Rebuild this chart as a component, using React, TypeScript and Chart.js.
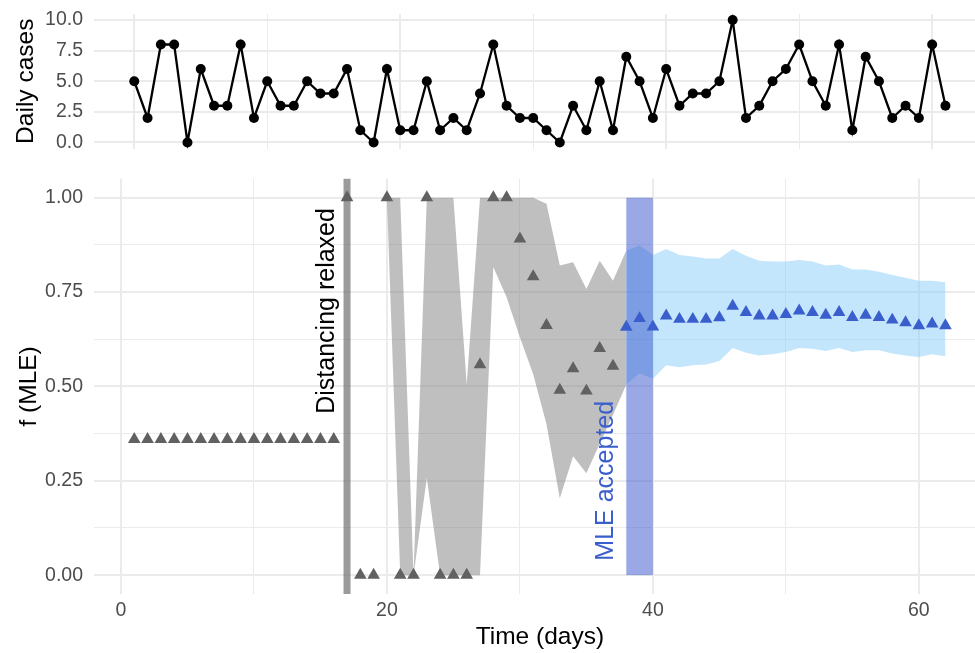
import React, { useEffect, useRef } from "react";
import { Chart, registerables } from "chart.js";

Chart.register(...registerables);

// ---------- data ----------
const days = Array.from({ length: 62 }, (_, i) => i + 1);

const dailyCases = [
  5, 2, 8, 8, 0, 6, 3, 3, 8, 2, 5, 3, 3, 5, 4, 4, 6, 1, 0, 6, 1, 1, 5, 1, 2, 1, 4, 8, 3, 2, 2,
  1, 0, 3, 1, 5, 1, 7, 5, 2, 6, 3, 4, 4, 5, 10, 2, 3, 5, 6, 8, 5, 3, 8, 1, 7, 5, 2, 3, 2, 8, 3,
];

// f (MLE) estimate per day (days 1..62)
const fMle = [
  0.36, 0.36, 0.36, 0.36, 0.36, 0.36, 0.36, 0.36, 0.36, 0.36, 0.36, 0.36, 0.36, 0.36, 0.36, 0.36,
  1.0, 0, 0, 1.0, 0, 0, 1.0, 0, 0, 0, 0.558, 1.0, 1.0, 0.891, 0.791, 0.662, 0.49, 0.547, 0.488,
  0.601, 0.554,
  0.657, 0.68, 0.658, 0.687, 0.678, 0.678, 0.678, 0.682, 0.713, 0.696, 0.687, 0.687, 0.691, 0.7,
  0.696, 0.689, 0.696, 0.683, 0.689, 0.683, 0.676, 0.669, 0.661, 0.666, 0.661,
];
const mleAcceptedDay = 38; // first day drawn in blue

// grey confidence band, days 20..38
const greyRibbonStart = 20;
const greyLower = [1, 0, 0, 0.257, 0, 0, 0, 0, 0.816, 0.736, 0.63, 0.532, 0.4, 0.204, 0.315, 0.27, 0.348, 0.425, 0.505];
const greyUpper = [1, 1, 0, 1, 1, 1, 0.505, 1, 1, 1, 1, 1, 0.984, 0.82, 0.829, 0.758, 0.833, 0.78, 0.86];

// blue confidence band, days 38..62
const blueRibbonStart = 38;
const blueLower = [
  0.505, 0.535, 0.52, 0.556, 0.551, 0.556, 0.558, 0.567, 0.602, 0.589, 0.582, 0.585, 0.591,
  0.602, 0.6, 0.594, 0.602, 0.591, 0.596, 0.596, 0.587, 0.582, 0.578, 0.585, 0.58,
];
const blueUpper = [
  0.86, 0.873, 0.848, 0.864, 0.848, 0.844, 0.839, 0.839, 0.864, 0.846, 0.833, 0.831, 0.831,
  0.835, 0.831, 0.82, 0.823, 0.81, 0.81, 0.804, 0.795, 0.788, 0.78, 0.78, 0.776,
];

const distancingDay = 17;
const mleWindowFrom = 38;
const mleWindowTo = 40;
const distancingLabel = "Distancing relaxed";
const mleLabel = "MLE accepted";

// ticks
const timeTicks = [0, 10, 20, 30, 40, 50, 60];
const timeMajor = [0, 20, 40, 60];
const topGridDays = [1, 11, 21, 31, 41, 51, 61];
const topGridMajor = [1, 21, 41, 61];
const fTicks = [0, 0.125, 0.25, 0.375, 0.5, 0.625, 0.75, 0.875, 1];
const fMajor = [0, 0.25, 0.5, 0.75, 1];
const casesTicks = [0, 1.25, 2.5, 3.75, 5, 6.25, 7.5, 8.75, 10];
const casesMajor = [0, 2.5, 5, 7.5, 10];

// ---------- styling ----------
const FONT = '"Liberation Sans", Arial, Helvetica, sans-serif';
const GRID = "#EBEBEB";
const TICK_COLOR = "#4D4D4D";
const X_MIN = -2.05;
const X_MAX = 65.05;
const LEFT_W = 93.7;
const CANVAS_W = 986;
const TOP_H = 160;
const BOT_H = 493;

const xy = (xs: number[], ys: number[]) => xs.map((x, i) => ({ x, y: ys[i] }));
const range = (start: number, n: number) => days.slice(start - 1, start - 1 + n);

const fixX = (h: number) => (s: any) => {
  s.height = h;
  s.paddingLeft = 0;
  s.paddingRight = 0;
};
const fixY = (s: any) => {
  s.width = LEFT_W;
  s.paddingTop = 0;
  s.paddingBottom = 0;
};

export default function App() {
  const topRef = useRef<HTMLCanvasElement | null>(null);
  const botRef = useRef<HTMLCanvasElement | null>(null);

  useEffect(() => {
    const top = new Chart(topRef.current!, {
      type: "line",
      data: {
        datasets: [
          {
            data: xy(days, dailyCases),
            borderColor: "#000",
            borderWidth: 2.3,
            pointRadius: 5,
            pointBackgroundColor: "#000",
            pointBorderWidth: 0,
            tension: 0,
          },
        ],
      },
      options: {
        animation: false,
        responsive: true,
        maintainAspectRatio: false,
        devicePixelRatio: 1,
        layout: { autoPadding: false, padding: { top: 13.9, bottom: 11.4, left: 0, right: 0 } },
        plugins: { legend: { display: false }, tooltip: { enabled: false } },
        scales: {
          x: {
            type: "linear",
            min: X_MIN,
            max: X_MAX,
            afterBuildTicks: (s: any) => {
              s.ticks = topGridDays.map((v) => ({ value: v }));
            },
            afterFit: fixX(0),
            ticks: { display: false },
            border: { display: false },
            grid: {
              color: GRID,
              drawTicks: false,
              lineWidth: (c: any) => (c.tick && topGridMajor.includes(c.tick.value) ? 2 : 1),
            },
          },
          y: {
            min: -0.5,
            max: 10.5,
            afterBuildTicks: (s: any) => {
              s.ticks = casesTicks.map((v) => ({ value: v }));
            },
            afterFit: fixY,
            border: { display: false },
            grid: {
              color: GRID,
              drawTicks: false,
              lineWidth: (c: any) => (c.tick && casesMajor.includes(c.tick.value) ? 2 : 1),
            },
            ticks: {
              padding: 10.7,
              color: TICK_COLOR,
              font: { family: FONT, size: 19.5 },
              callback: (v: any) => (casesMajor.includes(v) ? Number(v).toFixed(1) : ""),
            },
            title: {
              display: true,
              text: "Daily cases",
              color: "#000",
              font: { family: FONT, size: 24.5 },
              padding: { top: 12, bottom: 0 },
            },
          },
        },
      },
    } as any);

    const annotations = {
      id: "annotations",
      afterDatasetDraw(chart: any, args: any) {
        if (args.index !== 2) return;
        const { ctx, chartArea, scales } = chart;
        const x = scales.x;
        const y = scales.y;
        ctx.save();
        const x0 = x.getPixelForValue(mleWindowFrom);
        const x1 = x.getPixelForValue(mleWindowTo);
        const y0 = y.getPixelForValue(1);
        const y1 = y.getPixelForValue(0);
        ctx.fillStyle = "rgba(53,83,205,0.5)";
        ctx.fillRect(x0, y0, x1 - x0, y1 - y0);
        const vx = x.getPixelForValue(distancingDay);
        ctx.fillStyle = "rgba(102,102,102,0.65)";
        ctx.fillRect(vx - 3.5, chartArea.top, 7, chartArea.bottom - chartArea.top);
        ctx.restore();
      },
      afterDatasetsDraw(chart: any) {
        const { ctx, scales } = chart;
        const x = scales.x;
        const y = scales.y;
        const drawV = (text: string, px: number, py: number, color: string) => {
          ctx.save();
          ctx.translate(px, py);
          ctx.rotate(-Math.PI / 2);
          ctx.font = `25px ${FONT}`;
          ctx.fillStyle = color;
          ctx.textAlign = "center";
          ctx.textBaseline = "alphabetic";
          ctx.fillText(text, 0, 0);
          ctx.restore();
        };
        drawV(distancingLabel, x.getPixelForValue(distancingDay) - 13.5, y.getPixelForValue(0.7), "#000");
        drawV(mleLabel, x.getPixelForValue(mleWindowFrom) - 13.5, y.getPixelForValue(0.25), "#3A5FCD");
      },
    };

    const greyDays = range(greyRibbonStart, greyLower.length);
    const blueDays = range(blueRibbonStart, blueLower.length);
    const greyIdx = days.filter((d) => d < mleAcceptedDay);
    const blueIdx = days.filter((d) => d >= mleAcceptedDay);

    const triangle = (color: string) => ({
      showLine: false,
      pointStyle: "triangle",
      pointRadius: 7.3,
      pointBackgroundColor: color,
      pointBorderWidth: 0,
      borderColor: "transparent",
    });
    const band = (fill: any, color: string) => ({
      pointRadius: 0,
      borderWidth: 0,
      borderColor: "transparent",
      backgroundColor: color,
      fill,
      tension: 0,
    });

    const bot = new Chart(botRef.current!, {
      type: "line",
      data: {
        datasets: [
          { data: xy(blueIdx, blueIdx.map((d) => fMle[d - 1])), ...triangle("#3A5FCD") },
          { data: xy(greyIdx, greyIdx.map((d) => fMle[d - 1])), ...triangle("#616161") },
          { data: xy(blueDays, blueUpper), ...band("+1", "rgba(135,206,250,0.5)") },
          { data: xy(blueDays, blueLower), ...band(false, "transparent") },
          { data: xy(greyDays, greyUpper), ...band("+1", "rgba(127,127,127,0.5)") },
          { data: xy(greyDays, greyLower), ...band(false, "transparent") },
        ],
      },
      options: {
        animation: false,
        responsive: true,
        maintainAspectRatio: false,
        devicePixelRatio: 1,
        layout: { autoPadding: false, padding: { top: 18.8, bottom: 0, left: 0, right: 0 } },
        plugins: { legend: { display: false }, tooltip: { enabled: false } },
        scales: {
          x: {
            type: "linear",
            min: X_MIN,
            max: X_MAX,
            afterBuildTicks: (s: any) => {
              s.ticks = timeTicks.map((v) => ({ value: v }));
            },
            afterFit: fixX(59),
            border: { display: false },
            grid: {
              color: GRID,
              drawTicks: false,
              lineWidth: (c: any) => (c.tick && timeMajor.includes(c.tick.value) ? 2 : 1),
            },
            ticks: {
              padding: 4.5,
              color: TICK_COLOR,
              maxRotation: 0,
              font: { family: FONT, size: 19.5 },
              callback: (v: any) => (timeMajor.includes(v) ? String(v) : ""),
            },
            title: {
              display: true,
              text: "Time (days)",
              color: "#000",
              font: { family: FONT, size: 24.5 },
              padding: { top: 0, bottom: 1.3 },
            },
          },
          y: {
            min: -0.05,
            max: 1.05,
            afterBuildTicks: (s: any) => {
              s.ticks = fTicks.map((v) => ({ value: v }));
            },
            afterFit: fixY,
            border: { display: false },
            grid: {
              color: GRID,
              drawTicks: false,
              lineWidth: (c: any) => (c.tick && fMajor.includes(c.tick.value) ? 2 : 1),
            },
            ticks: {
              padding: 10.7,
              color: TICK_COLOR,
              font: { family: FONT, size: 19.5 },
              callback: (v: any) => (fMajor.includes(v) ? Number(v).toFixed(2) : ""),
            },
            title: {
              display: true,
              text: "f (MLE)",
              color: "#000",
              font: { family: FONT, size: 24.5 },
              padding: { top: 14.3, bottom: 0 },
            },
          },
        },
      },
      plugins: [annotations],
    } as any);

    return () => {
      top.destroy();
      bot.destroy();
    };
  }, []);

  return (
    <div
      style={{
        position: "fixed",
        left: 0,
        top: 0,
        width: 975,
        height: 653,
        overflow: "hidden",
        background: "#fff",
      }}
    >
      <div style={{ position: "absolute", left: 0, top: 0, width: CANVAS_W, height: TOP_H }}>
        <canvas ref={topRef} />
      </div>
      <div style={{ position: "absolute", left: 0, top: TOP_H, width: CANVAS_W, height: BOT_H }}>
        <canvas ref={botRef} />
      </div>
    </div>
  );
}
